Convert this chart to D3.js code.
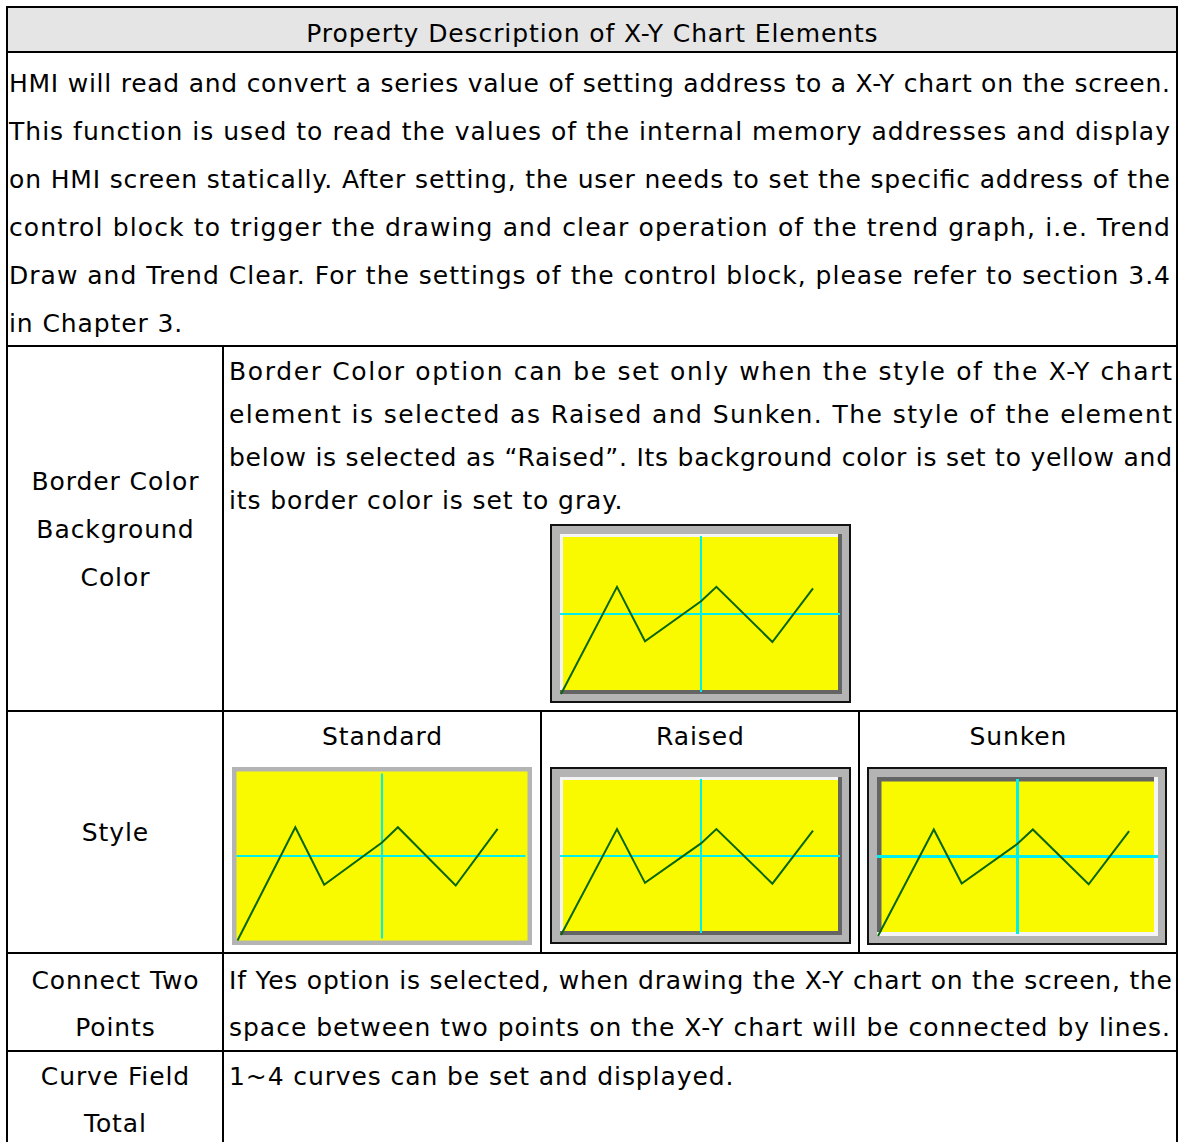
<!DOCTYPE html>
<html>
<head>
<meta charset="utf-8">
<script src="https://cdn.jsdelivr.net/npm/d3@7"></script>
<style>
  html, body { margin: 0; padding: 0; background: #fff; }
  svg { display: block; }
  text { font-family: "DejaVu Sans", sans-serif; font-size: 25px; fill: #000; }
</style>
</head>
<body>
<svg id="chart" width="1186" height="1142"></svg>
<script>
// ---------------- data ----------------
const headerTitle = "Property Description of X-Y Chart Elements";
const introLines = [
  "HMI will read and convert a series value of setting address to a X-Y chart on the screen.",
  "This function is used to read the values of the internal memory addresses and display",
  "on HMI screen statically. After setting, the user needs to set the specific address of the",
  "control block to trigger the drawing and clear operation of the trend graph, i.e. Trend",
  "Draw and Trend Clear. For the settings of the control block, please refer to section 3.4",
  "in Chapter 3."
];
const borderLabel = ["Border Color", "Background", "Color"];
const borderDescLines = [
  "Border Color option can be set only when the style of the X-Y chart",
  "element is selected as Raised and Sunken. The style of the element",
  "below is selected as \u201cRaised\u201d. Its background color is set to yellow and",
  "its border color is set to gray."
];
const styleLabel = ["Style"];
const styleNames = ["Standard", "Raised", "Sunken"];
const connectLabel = ["Connect Two", "Points"];
const connectLines = [
  "If Yes option is selected, when drawing the X-Y chart on the screen, the",
  "space between two points on the X-Y chart will be connected by lines."
];
const curveLabel = ["Curve Field", "Total"];
const curveLines = ["1~4 curves can be set and displayed."];

// trend curve drawn inside each sample chart (percent of plot area)
const trendX = [0, 20, 30, 50, 55.5, 75.5, 90];
const trendY = [0, 67, 33, 58, 67, 32.5, 66];
// crosshair position (percent)
const crossX = [50];
const crossY = [50];

// ---------------- drawing ----------------
const svg = d3.select("#chart");
const LS = 0.9; // letter spacing for natural-width text
const BASE = 8.5;  // baseline offset from visual centre

// table geometry
const L = 7, R = 1177, T = 7;
const rowY = [52, 346, 711, 953, 1051];
const colX = 223;

// header fill
svg.append("rect").attr("x", L).attr("y", T).attr("width", R - L).attr("height", rowY[0] - T)
  .attr("fill", "#e5e5e5");

function natText(str, x, cy, anchor) {
  const t = svg.append("text")
    .attr("y", cy + BASE)
    .attr("letter-spacing", LS)
    .attr("text-anchor", anchor || "start")
    .text(str);
  t.attr("x", anchor === "middle" ? x + LS / 2 : x);
  return t;
}
function justText(str, x, cy, w) {
  return svg.append("text")
    .attr("x", x).attr("y", cy + BASE)
    .attr("textLength", w).attr("lengthAdjust", "spacing")
    .text(str);
}

// header
natText(headerTitle, 592, 33, "middle");

// intro paragraph
introLines.forEach((s, i) => {
  const cy = 83 + i * 48;
  if (i < introLines.length - 1) justText(s, 9, cy, 1161);
  else natText(s, 9, cy);
});

// border colour row
borderLabel.forEach((s, i) => natText(s, 115, 481 + i * 48, "middle"));
borderDescLines.forEach((s, i) => {
  const cy = 371 + i * 43;
  if (i < borderDescLines.length - 1) justText(s, 229, cy, 943);
  else natText(s, 229, cy);
});

// style row
styleLabel.forEach((s, i) => natText(s, 115, 832, "middle"));
const styleCenters = [382, 700, 1018];
styleNames.forEach((s, i) => natText(s, styleCenters[i], 736, "middle"));

// connect row
connectLabel.forEach((s, i) => natText(s, 115, 980 + i * 47, "middle"));
connectLines.forEach((s, i) => justText(s, 229, 980 + i * 47, i === 0 ? 943 : 941));

// curve row
curveLabel.forEach((s, i) => natText(s, 115, 1076 + i * 47, "middle"));
curveLines.forEach((s, i) => natText(s, 229, 1076 + i * 47));

// ---------- sample charts ----------
const YELLOW = "#f9f900", GREY = "#b4b4b4", DARK = "#646464", LIGHT = "#f4f4f4",
      CYAN = "#00eeee", GREEN = "#0a660a";

function drawXY(box, style) {
  const g = svg.append("g");
  let plot;
  if (style === "standard") {
    g.append("rect").attr("x", box.x).attr("y", box.y).attr("width", box.w).attr("height", box.h)
      .attr("fill", GREY);
    plot = { x0: box.x + 4.5, y0: box.y + 4.5, x1: box.x + box.w - 4.5, y1: box.y + box.h - 4.5 };
    g.append("rect").attr("x", plot.x0).attr("y", plot.y0)
      .attr("width", plot.x1 - plot.x0).attr("height", plot.y1 - plot.y0).attr("fill", YELLOW);
  } else {
    g.append("rect").attr("x", box.x + 1).attr("y", box.y + 1)
      .attr("width", box.w - 2).attr("height", box.h - 2)
      .attr("fill", GREY).attr("stroke", "#111").attr("stroke-width", 2);
    plot = { x0: box.x + 10, y0: box.y + 10, x1: box.x + box.w - 9, y1: box.y + box.h - 9 };
    const tl = style === "raised" ? LIGHT : DARK;
    const br = style === "raised" ? DARK : LIGHT;
    const bw = style === "raised" ? 3 : 4.5;
    const bb = 4;
    g.append("rect").attr("x", plot.x0).attr("y", plot.y0)
      .attr("width", plot.x1 - plot.x0).attr("height", plot.y1 - plot.y0).attr("fill", br);
    g.append("rect").attr("x", plot.x0).attr("y", plot.y0)
      .attr("width", plot.x1 - plot.x0 - bb).attr("height", plot.y1 - plot.y0 - bb).attr("fill", tl);
    g.append("rect").attr("x", plot.x0 + bw).attr("y", plot.y0 + bw)
      .attr("width", plot.x1 - plot.x0 - bw - bb).attr("height", plot.y1 - plot.y0 - bw - bb)
      .attr("fill", YELLOW);
  }
  const xs = d3.scaleLinear().domain([0, 100]).range([plot.x0 + 1, plot.x1 - 1]);
  const ys = d3.scaleLinear().domain([0, 100]).range([plot.y1, plot.y0]);
  const cw = style === "sunken" ? 3 : 2;
  crossY.forEach(v => {
    g.append("line").attr("x1", plot.x0).attr("x2", plot.x1 - (style === "sunken" ? 0 : 2))
      .attr("y1", ys(v)).attr("y2", ys(v)).attr("stroke", CYAN).attr("stroke-width", cw);
  });
  crossX.forEach(v => {
    g.append("line").attr("x1", xs(v)).attr("x2", xs(v))
      .attr("y1", plot.y0 + 2).attr("y2", plot.y1 - 2).attr("stroke", CYAN).attr("stroke-width", cw);
  });
  const line = d3.line().x(d => xs(d[0])).y(d => ys(d[1]));
  g.append("path").datum(trendX.map((x, i) => [x, trendY[i]]))
    .attr("d", line).attr("fill", "none").attr("stroke", GREEN).attr("stroke-width", 2)
    .attr("stroke-linejoin", "miter");
}

drawXY({ x: 550, y: 524, w: 301, h: 179 }, "raised");
drawXY({ x: 232, y: 767, w: 300, h: 178 }, "standard");
drawXY({ x: 550, y: 767, w: 301, h: 177 }, "raised");
drawXY({ x: 867, y: 767, w: 300, h: 178 }, "sunken");

// ---------- table lines ----------
const lines = svg.append("g").attr("stroke", "#000").attr("stroke-width", 2);
lines.append("line").attr("x1", L).attr("x2", R).attr("y1", T).attr("y2", T);
lines.append("line").attr("x1", L).attr("x2", L).attr("y1", T - 1).attr("y2", 1143);
lines.append("line").attr("x1", R).attr("x2", R).attr("y1", T - 1).attr("y2", 1143);
rowY.forEach(y => lines.append("line").attr("x1", L).attr("x2", R).attr("y1", y).attr("y2", y));
lines.append("line").attr("x1", colX).attr("x2", colX).attr("y1", rowY[1]).attr("y2", 1143);
[541, 859].forEach(x => lines.append("line").attr("x1", x).attr("x2", x).attr("y1", rowY[2]).attr("y2", rowY[3]));
</script>
</body>
</html>
